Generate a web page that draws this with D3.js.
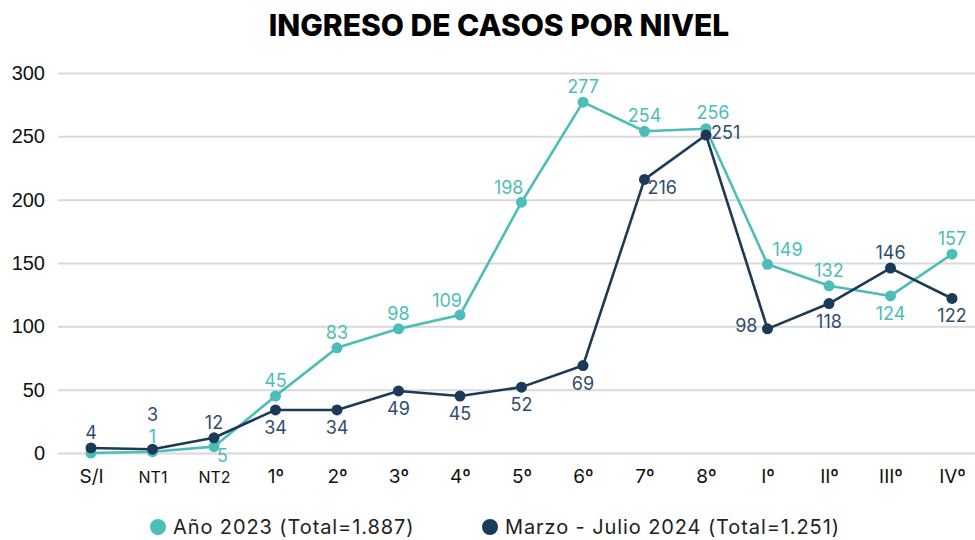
<!DOCTYPE html>
<html><head><meta charset="utf-8">
<script src="https://cdn.jsdelivr.net/npm/d3@7"></script>
<style>body{margin:0;background:#fff}svg{display:block}</style>
</head><body><svg id="c" width="975" height="540"></svg>
<script>
const categories = ["S/I","NT1","NT2","1º","2º","3º","4º","5º","6º","7º","8º","Iº","IIº","IIIº","IVº"];
const values2023 = [0,1,5,45,83,98,109,198,277,254,256,149,132,124,157];
const values2024 = [4,3,12,34,34,49,45,52,69,216,251,98,118,146,122];
const labels2023 = [null,"1","5","45","83","98","109","198","277","254","256","149","132","124","157"];
const labels2024 = ["4","3","12","34","34","49","45","52","69","216","251","98","118","146","122"];
const yTicks = [0,50,100,150,200,250,300];
const seriesNames = ["Año 2023 (Total=1.887)","Marzo - Julio 2024 (Total=1.251)"];
const title = "INGRESO DE CASOS POR NIVEL";

// label placement (style only)
const pos2023 = [null,"t","br","t","t","t","tl","tl","t","t","tr2","tr","t","b","t"];
const pos2024 = ["t","tt","t","b","b","b","b","b","b","br","r","l","b","t","b"];

const teal = "#4dbdb7", navy = "#1b3a57", navyLbl = "#2f4d6e";
const svg = d3.select("#c");
const x = d3.scalePoint().domain(categories).range([91, 952]);
const y = d3.scaleLinear().domain([0,300]).range([453, 73]);
const font = "'Liberation Sans', Arial, sans-serif";
const font2 = "Inter, 'Noto Sans', sans-serif";

svg.append("text").attr("x", 499).attr("y", 36).attr("text-anchor","middle")
  .attr("font-family", font2).attr("font-weight", 800).attr("font-size", 30)
  .attr("fill","#000").text(title);

const yAxis = svg.append("g").attr("transform","translate(58,0)")
  .call(d3.axisLeft(y).tickValues(yTicks).tickSize(-917).tickPadding(13).tickFormat(d3.format("d")));
yAxis.select(".domain").remove();
yAxis.selectAll(".tick line").attr("stroke","#d9d9d9").attr("stroke-width",2);
yAxis.selectAll(".tick text").attr("font-family", font).attr("font-size", 20).attr("fill","#111");

const xAxis = svg.append("g").attr("transform","translate(0,453)")
  .call(d3.axisBottom(x).tickSize(0).tickPadding(13));
xAxis.select(".domain").remove();
xAxis.selectAll(".tick text").attr("font-family", font2)
  .attr("font-size", d => d.startsWith("NT") ? 16 : 19).attr("fill","#111")
  .attr("dy", d => d.startsWith("NT") ? "1.05em" : "0.9em");

const off = {t:[0,-9,"middle"], tt:[0,-28,"middle"], b:[0,24,"middle"], r:[5,4,"start"],
             l:[-10,3,"end"], tr:[5,-8,"start"], tl:[2,-8,"end"], br:[3,15,"start"], tr2:[7,-10,"middle"]};

function drawSeries(vals, color, lblColor, labels, pos){
  const line = d3.line().x((d,i)=>x(categories[i])).y(d=>y(d));
  svg.append("path").datum(vals).attr("d", line).attr("fill","none")
    .attr("stroke", color).attr("stroke-width", 2.6).attr("stroke-linejoin","round");
  svg.append("g").selectAll("circle").data(vals).join("circle")
    .attr("cx",(d,i)=>x(categories[i])).attr("cy", d=>y(d)).attr("r",5.5).attr("fill",color);
  const items = vals.map((v,i)=>({v,i})).filter(d=>labels[d.i]!==null);
  svg.append("g").selectAll("text").data(items).join("text")
    .attr("x", d => x(categories[d.i]) + off[pos[d.i]][0])
    .attr("y", d => y(d.v) + off[pos[d.i]][1])
    .attr("text-anchor", d => off[pos[d.i]][2])
    .attr("font-family", font2).attr("font-size", 18).attr("fill", lblColor)
    .text(d => labels[d.i]);
}
drawSeries(values2023, teal, teal, labels2023, pos2023);
drawSeries(values2024, navy, navyLbl, labels2024, pos2024);

const leg = [{c:teal, t:seriesNames[0], x:158},{c:navy, t:seriesNames[1], x:490}];
leg.forEach(l=>{
  svg.append("circle").attr("cx", l.x).attr("cy", 527).attr("r", 8).attr("fill", l.c);
  svg.append("text").attr("x", l.x+15).attr("y", 534).attr("font-family", font2)
    .attr("font-size", 20).attr("letter-spacing", 0.9).attr("fill","#222").text(l.t);
});
</script></body></html>
